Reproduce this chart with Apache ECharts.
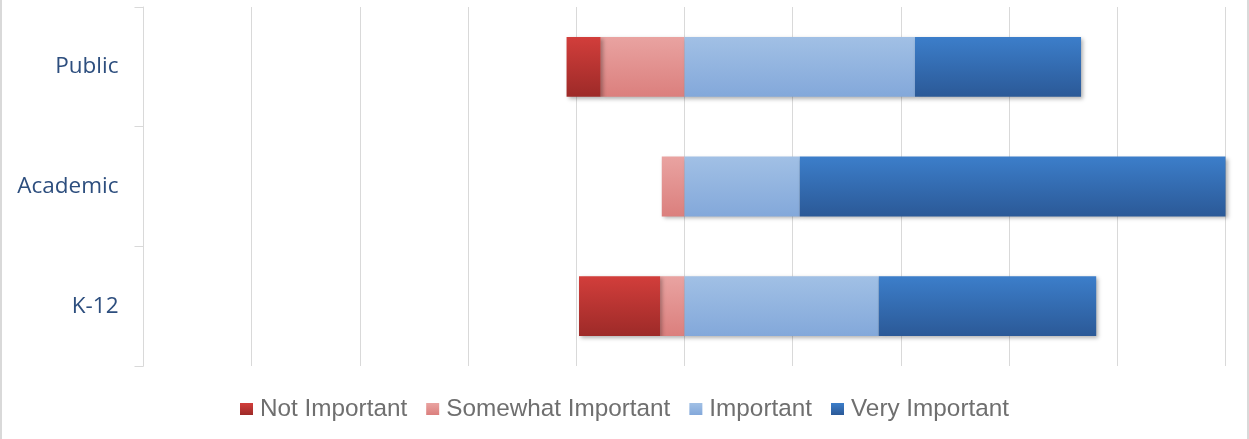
<!DOCTYPE html>
<html>
<head>
<meta charset="utf-8">
<script src="https://cdn.jsdelivr.net/npm/echarts@6/dist/echarts.min.js"></script>
<style>
html,body{margin:0;padding:0;background:#fff;}
#frame{position:absolute;left:0;top:0;width:1249px;height:439px;box-sizing:border-box;border-left:2px solid #d9d9d9;border-right:2px solid #d9d9d9;}
#chart{position:absolute;left:0;top:0;width:1249px;height:439px;}
</style>
</head>
<body>
<div id="frame"></div>
<div id="chart"></div>
<script>
// Categories (bottom to top as ECharts draws them)
const categories = ['K-12', 'Academic', 'Public'];
// Values in percent; negative side drawn to the left of zero
const notImportant = [15.0, 0, 6.3];
const somewhatImportant = [4.5, 4.2, 15.5];
const important = [35.9, 21.3, 42.6];
const veryImportant = [40.2, 78.7, 30.7];
const seriesNames = ['Not Important', 'Somewhat Important', 'Important', 'Very Important'];

function grad(top, bottom) {
  return new echarts.graphic.LinearGradient(0, 0, 0, 1, [
    { offset: 0, color: top },
    { offset: 1, color: bottom }
  ]);
}
const colors = {
  'Not Important': grad('#d23e3b', '#9d2a28'),
  'Somewhat Important': grad('#e9a3a1', '#db7f7d'),
  'Important': grad('#a1c0e5', '#83a8da'),
  'Very Important': grad('#3c7eca', '#2b5997')
};
const flat = {
  'Not Important': '#b83432',
  'Somewhat Important': '#e39290',
  'Important': '#93b5e0',
  'Very Important': '#3269b0'
};

function mk(name, vals, negative) {
  return {
    name: name,
    type: 'bar',
    stack: 'total',
    barWidth: '50%',
    data: vals.map(v => (v === 0 ? '-' : (negative ? -v : v))),
    itemStyle: {
      color: colors[name],
      shadowBlur: 4,
      shadowColor: 'rgba(0,0,0,0.3)',
      shadowOffsetX: 2,
      shadowOffsetY: 2
    },
    emphasis: { disabled: true }
  };
}

const chart = echarts.init(document.getElementById('chart'), null, { renderer: 'canvas' });
chart.setOption({
  animation: false,
  color: seriesNames.map(n => flat[n]),
  grid: { left: 143.5, right: 23.5, top: 7, bottom: 73, containLabel: false },
  legend: {
    data: seriesNames.map(n => ({ name: n, itemStyle: { color: colors[n] } })),
    left: 'center',
    top: 392,
    itemWidth: 13,
    itemHeight: 12,
    itemGap: 19,
    icon: 'rect',
    textStyle: { fontFamily: 'Liberation Sans', fontSize: 24.3, color: '#6f6f6f', padding: [0, 0, 0, 2] }
  },
  xAxis: {
    type: 'value',
    min: -100,
    max: 100,
    interval: 20,
    axisLabel: { show: false },
    axisLine: { show: false },
    axisTick: { show: false },
    splitLine: { show: true, lineStyle: { color: '#d9d9d9', width: 1 } }
  },
  yAxis: {
    type: 'category',
    data: categories,
    axisLine: { show: true, onZero: false, lineStyle: { color: '#d9d9d9', width: 1 } },
    axisTick: { show: true, length: 9, lineStyle: { color: '#d9d9d9' } },
    axisLabel: { margin: 25, fontFamily: 'Open Sans', fontSize: 22.5, color: '#2d4e7e', padding: [3, 0, 0, 0] }
  },
  series: [
    mk('Somewhat Important', somewhatImportant, true),
    mk('Not Important', notImportant, true),
    mk('Important', important, false),
    mk('Very Important', veryImportant, false)
  ]
});
</script>
</body>
</html>
